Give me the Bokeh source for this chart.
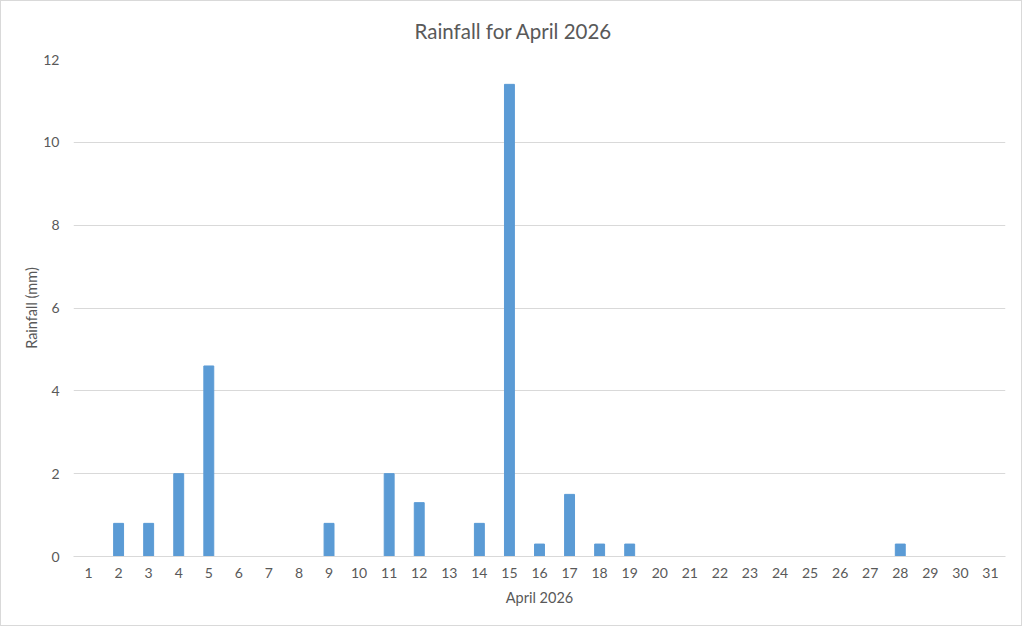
from bokeh.plotting import figure
from bokeh.models import FactorRange, Range1d, SingleIntervalTicker, ColumnDataSource
from bokeh.embed import file_html
from bokeh.resources import INLINE

days = [str(d) for d in range(1, 32)]
rainfall = [0, 0.8, 0.8, 2, 4.6, 0, 0, 0, 0.8, 0, 2, 1.3, 0, 0.8, 11.4, 0.3, 1.5, 0.3, 0.3,
            0, 0, 0, 0, 0, 0, 0, 0, 0.3, 0, 0, 0]
title_text = "Rainfall for April 2026"
x_label = "April 2026"
y_label = "Rainfall (mm)"

FONT = "Lato"
GREY = "#595959"

src = ColumnDataSource(dict(day=days, rain=rainfall))

p = figure(width=1022, height=626, x_range=FactorRange(*days), y_range=Range1d(0, 12),
           output_backend="svg", toolbar_location=None, title=title_text,
           min_border_left=72, min_border_right=18, min_border_top=58, min_border_bottom=71)

p.vbar(x="day", top="rain", width=0.33, source=src, color="#5b9bd5")

p.title.align = "left"
p.title.offset = 341
p.title.vertical_align = "top"
p.title.standoff = 30
p.title.text_font = FONT
p.title.text_font_size = "20.5px"
p.title.text_font_style = "normal"
p.title.text_color = GREY

p.outline_line_color = None
p.background_fill_color = "white"
p.border_fill_color = "white"
p.styles = {"border": "1px solid #d9d9d9"}

p.xgrid.grid_line_color = None
p.ygrid.grid_line_color = "#d9d9d9"
p.ygrid.grid_line_width = 1

p.yaxis.ticker = SingleIntervalTicker(interval=2)
p.yaxis.axis_line_color = None
p.yaxis.major_tick_line_color = None
p.yaxis.minor_tick_line_color = None
p.xaxis.axis_line_color = "#d9d9d9"
p.xaxis.major_tick_line_color = None
p.xaxis.minor_tick_line_color = None

for ax in (p.xaxis, p.yaxis):
    ax.major_label_text_font = FONT
    ax.major_label_text_font_size = "14px"
    ax.major_label_text_color = GREY
    ax.axis_label_text_font = FONT
    ax.axis_label_text_font_size = "14.5px"
    ax.axis_label_text_font_style = "normal"
    ax.axis_label_text_color = GREY
    ax.major_tick_out = 0
    ax.major_tick_in = 0

p.xaxis.major_label_standoff = 11
p.yaxis.major_label_standoff = 10
p.xaxis.axis_label = x_label
p.yaxis.axis_label = y_label
p.xaxis.axis_label_standoff = 8
p.yaxis.axis_label_standoff = 0

open("out.html", "w").write(file_html(p, INLINE))
